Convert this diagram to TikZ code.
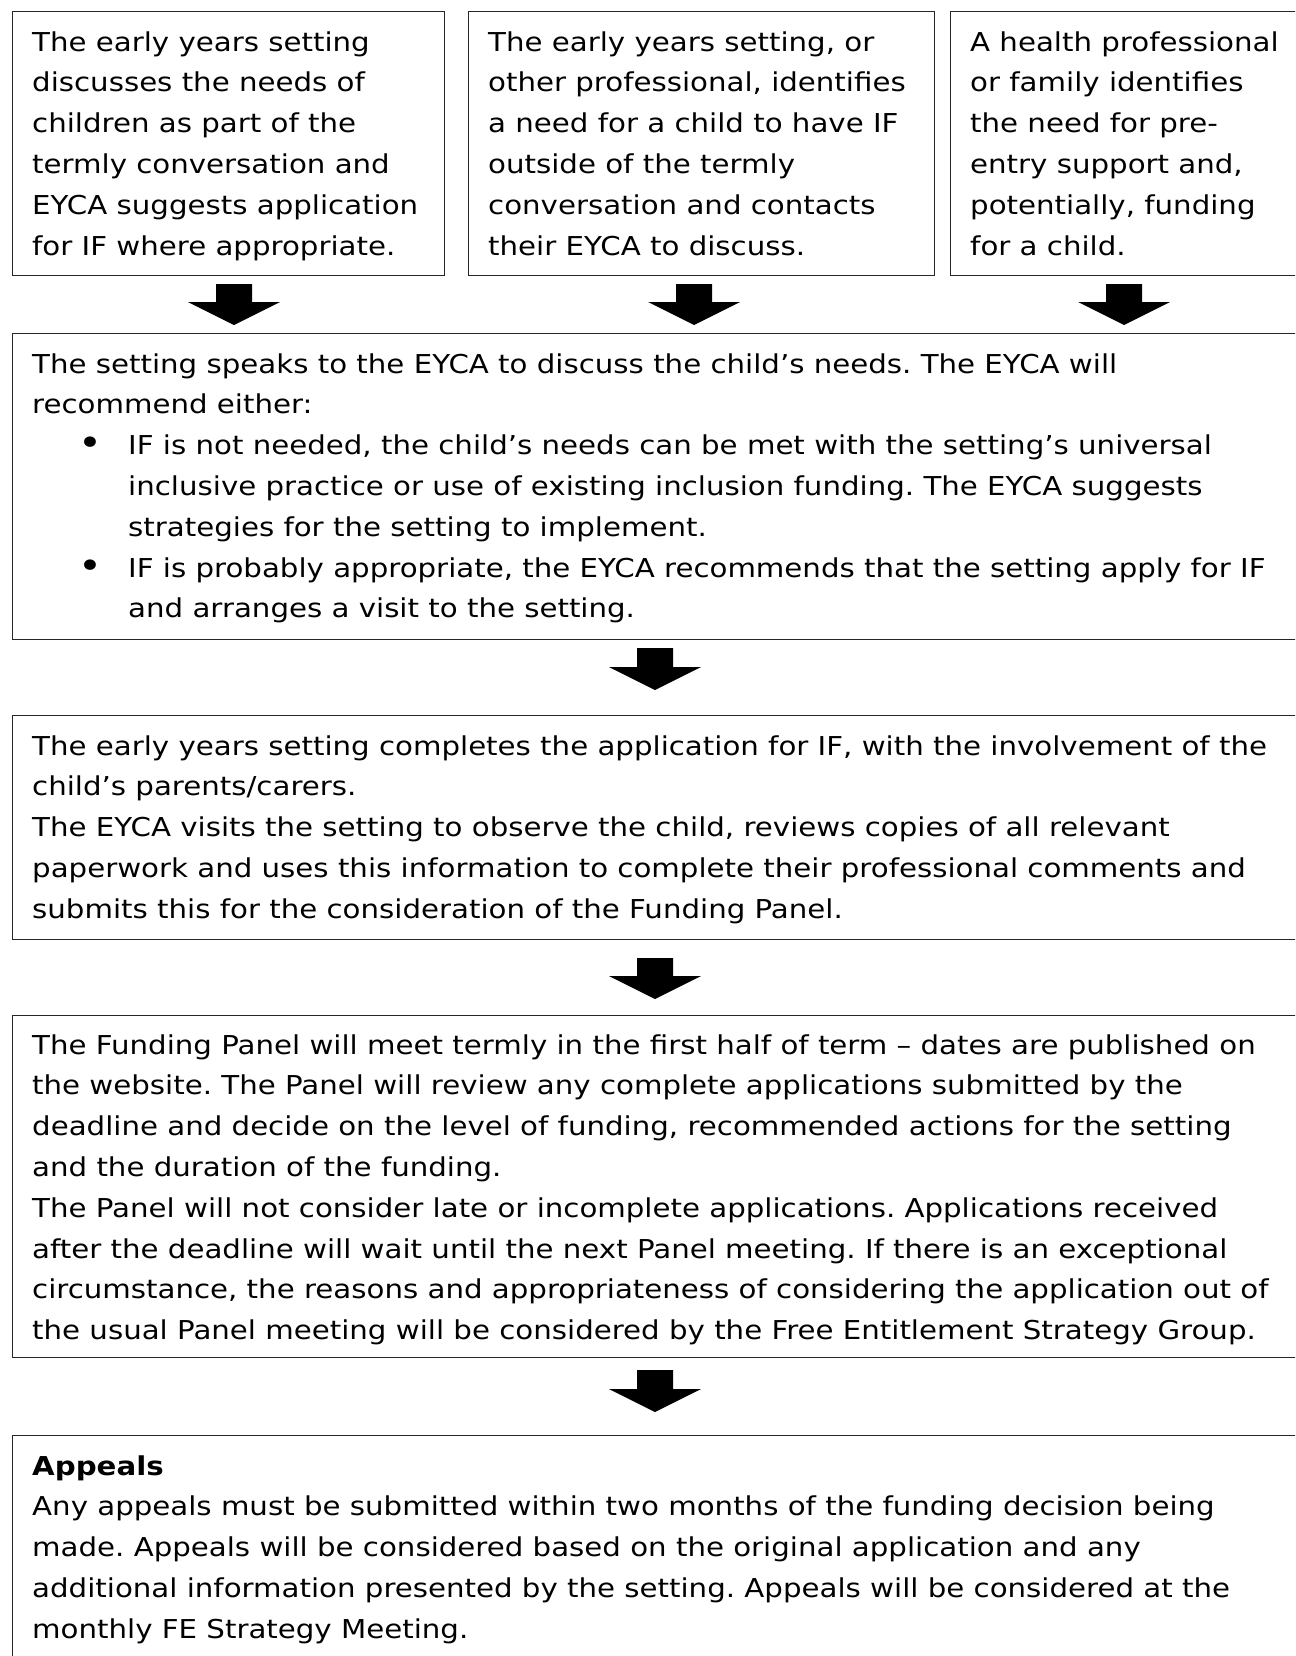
\documentclass[tikz,border=0pt]{standalone}
\usepackage{fontspec}
\setmainfont[FakeStretch=1.125]{DejaVu Sans}
\usetikzlibrary{calc}
\tikzset{
  flowbox/.style={draw=black!85, line width=1.1pt, anchor=north west, inner sep=0pt},
  boxtext/.style={anchor=north west, inner sep=0pt, align=left,
    font=\fontsize{26pt}{40.8pt}\selectfont\frenchspacing},
  arrowfill/.style={fill=black},
}
\newcommand\blockarrow[2]{%
  \fill[arrowfill] let \p1=#1, \p2=#2 in
    (\x1-18pt,\y1) -- (\x1+18pt,\y1) -- (\x1+18pt,\y2+23pt) -- (\x1+46pt,\y2+23pt)
    -- (\x1,\y2) -- (\x1-46pt,\y2+23pt) -- (\x1-18pt,\y2+23pt) -- cycle;}
\newcommand\bul{\hspace*{46pt}\makebox[50pt][l]{\raisebox{-1pt}{\fontsize{36pt}{36pt}\selectfont •}}}
\begin{document}
\begin{tikzpicture}[x=1pt,y=-1pt]
\useasboundingbox (0,0) rectangle (1295,1656);
\fill[white] (0,0) rectangle (1295,1656);
\clip (0,0) rectangle (1295,1656);

% boxes
\node[flowbox, minimum width=432pt, minimum height=264pt] (b1) at (12,11) {};
\node[flowbox, minimum width=466pt, minimum height=264pt] (b2) at (468,11) {};
\node[flowbox, minimum width=360pt, minimum height=264pt] (b3) at (950,11) {};
\node[flowbox, minimum width=1300pt, minimum height=306pt] (b4) at (12,333) {};
\node[flowbox, minimum width=1300pt, minimum height=224pt] (b5) at (12,715) {};
\node[flowbox, minimum width=1300pt, minimum height=342pt] (b6) at (12,1015) {};
\node[flowbox, minimum width=1300pt, minimum height=260pt] (b7) at (12,1435) {};

% texts
\node[boxtext] (t1) at ([shift={(20,11.4)}]b1.north west) {\strut The early years setting\\
discusses the needs of\\
children as part of the\\
termly conversation and\\
EYCA suggests application\\
for IF where appropriate.};
\node[boxtext] (t2) at ([shift={(20,11.4)}]b2.north west) {\strut The early years setting, or\\
other professional, identifies\\
a need for a child to have IF\\
outside of the termly\\
conversation and contacts\\
their EYCA to discuss.};
\node[boxtext] (t3) at ([shift={(20,11.4)}]b3.north west) {\strut A health professional\\
or family identifies\\
the need for pre-\\
entry support and,\\
potentially, funding\\
for a child.};
\node[boxtext] (t4) at ([shift={(20,11.4)}]b4.north west) {\strut The setting speaks to the EYCA to discuss the child’s needs. The EYCA will\\
recommend either:\\
\bul IF is not needed, the child’s needs can be met with the setting’s universal\\
\hspace*{96pt}inclusive practice or use of existing inclusion funding. The EYCA suggests\\
\hspace*{96pt}strategies for the setting to implement.\\
\bul IF is probably appropriate, the EYCA recommends that the setting apply for IF\\
\hspace*{96pt}and arranges a visit to the setting.};
\node[boxtext] (t5) at ([shift={(20,11.4)}]b5.north west) {\strut The early years setting completes the application for IF, with the involvement of the\\
child’s parents/carers.\\
The EYCA visits the setting to observe the child, reviews copies of all relevant\\
paperwork and uses this information to complete their professional comments and\\
submits this for the consideration of the Funding Panel.};
\node[boxtext] (t6) at ([shift={(20,10.4)}]b6.north west) {\strut The Funding Panel will meet termly in the first half of term – dates are published on\\
the website. The Panel will review any complete applications submitted by the\\
deadline and decide on the level of funding, recommended actions for the setting\\
and the duration of the funding.\\
The Panel will not consider late or incomplete applications. Applications received\\
after the deadline will wait until the next Panel meeting. If there is an exceptional\\
circumstance, the reasons and appropriateness of considering the application out of\\
the usual Panel meeting will be considered by the Free Entitlement Strategy Group.};
\node[boxtext] (t7) at ([shift={(20,11.4)}]b7.north west) {\strut\textbf{Appeals}\\
Any appeals must be submitted within two months of the funding decision being\\
made. Appeals will be considered based on the original application and any\\
additional information presented by the setting. Appeals will be considered at the\\
monthly FE Strategy Meeting.};

% arrows
\blockarrow{([shift={(222,8)}]b1.south west)}{([yshift=8pt]b4.north west)}
\blockarrow{([shift={(226,8)}]b2.south west)}{([yshift=8pt]b4.north west)}
\blockarrow{([shift={(174,8)}]b3.south west)}{([yshift=8pt]b4.north west)}
\blockarrow{([shift={(643,8)}]b4.south west)}{([yshift=25pt]b5.north west)}
\blockarrow{([shift={(643,18)}]b5.south west)}{([yshift=16pt]b6.north west)}
\blockarrow{([shift={(643,12)}]b6.south west)}{([yshift=23pt]b7.north west)}
\end{tikzpicture}
\end{document}
